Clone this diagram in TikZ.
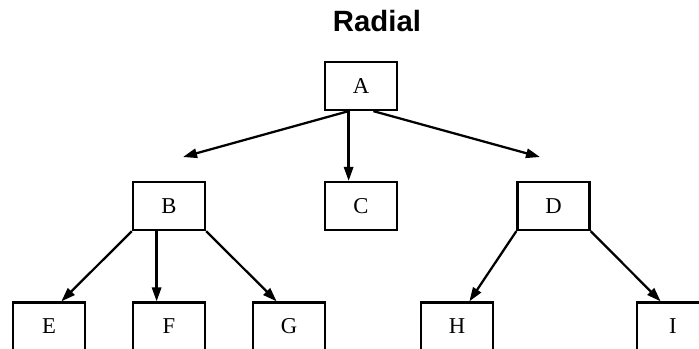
\documentclass[tikz,border=0pt]{standalone}
\usepackage{fontspec}
\setmainfont{Liberation Serif}
\newfontfamily\titlefont{Liberation Sans}
\usetikzlibrary{arrows.meta,calc}
\tikzset{
  box/.style={draw=black, line width=1.7pt, rectangle, minimum width=54pt, minimum height=36pt, inner sep=0pt, font=\fontsize{17}{20}\selectfont},
  edge/.style={line width=1.7pt, -{Triangle[length=10.5pt,width=7pt]}}
}
\begin{document}
\begin{tikzpicture}[x=0.75pt,y=-0.75pt]
\useasboundingbox (0,0) rectangle (699,349);
\fill[white] (0,0) rectangle (699,349);
\node[font=\titlefont\bfseries\fontsize{22}{26}\selectfont, anchor=base] (title) at (377,32) {Radial};
\node[box] (A) at (361,86) {A};
\node[box] (B) at (169,206) {B};
\node[box] (C) at (361,206) {C};
\node[box] (D) at (553.5,206) {D};
\node[box] (E) at (49,326.5) {E};
\node[box] (F) at (169,326.5) {F};
\node[box] (G) at (289,326.5) {G};
\node[box] (H) at (457,326.5) {H};
\node[box] (I) at (673,326.5) {I};
\coordinate (tB) at (183,157);
\coordinate (tD) at (540,157);
\draw[edge] ($(A.south west)!1/3!(A.south east)$) -- (tB);
\draw[edge] ($(A.south west)!1/3!(A.south east)$) -- ($(C.north west)!1/3!(C.north east)$);
\draw[edge] ($(A.south west)!2/3!(A.south east)$) -- (tD);
\draw[edge] (B.south west) -- ($(E.north west)!2/3!(E.north east)$);
\draw[edge] ($(B.south west)!1/3!(B.south east)$) -- ($(F.north west)!1/3!(F.north east)$);
\draw[edge] (B.south east) -- ($(G.north west)!1/3!(G.north east)$);
\draw[edge] (D.south west) -- ($(H.north west)!2/3!(H.north east)$);
\draw[edge] (D.south east) -- ($(I.north west)!1/3!(I.north east)$);
\end{tikzpicture}
\end{document}
